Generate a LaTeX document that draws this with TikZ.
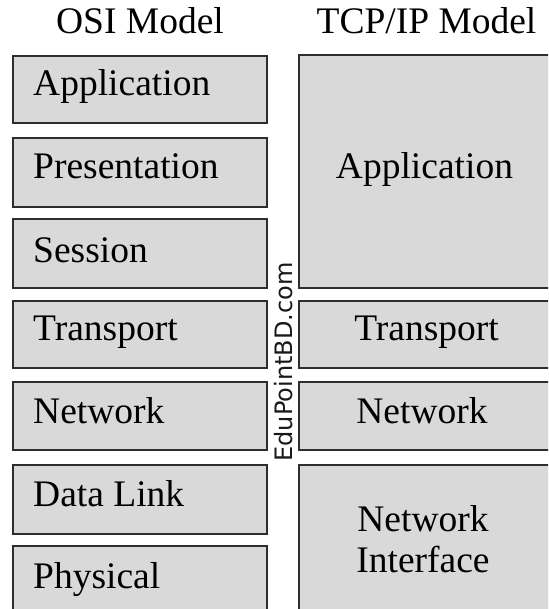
\documentclass[tikz,border=0pt]{standalone}
\usepackage{fontspec}
\setmainfont{Liberation Serif}
\newfontfamily\wmfont{DejaVu Sans}
\definecolor{boxfill}{HTML}{D9D9D9}
\definecolor{boxline}{HTML}{2E2E2E}
\tikzset{
  layer/.style={draw=boxline, fill=boxfill, line width=1.6pt, anchor=north west, inner sep=0pt, outer sep=0pt},
  lbl/.style={font=\fontsize{37.5}{41}\selectfont, inner sep=0pt, text=black},
  osilbl/.style={lbl, anchor=base west},
  tcplbl/.style={lbl, anchor=base},
}
\begin{document}
\begin{tikzpicture}[x=1pt,y=-1pt]
\useasboundingbox (0,0) rectangle (548,609);
\clip (0,0) rectangle (548,609);
\fill[white] (0,0) rectangle (548,609);
% titles
\node[tcplbl] (osititle) at (140,34) {OSI Model};
\node[tcplbl] (tcptitle) at (426.5,34) {TCP/IP Model};
% OSI boxes
\node[layer, minimum width=254pt, minimum height=67pt] (oapp) at (13,56) {};
\node[layer, minimum width=254pt, minimum height=69pt] (opre) at (13,138) {};
\node[layer, minimum width=254pt, minimum height=69pt] (oses) at (13,219) {};
\node[layer, minimum width=254pt, minimum height=67pt] (otra) at (13,301) {};
\node[layer, minimum width=254pt, minimum height=68pt] (onet) at (13,382) {};
\node[layer, minimum width=254pt, minimum height=69pt] (odl) at (13,465) {};
\node[layer, minimum width=254pt, minimum height=90pt] (ophy) at (13,546) {};
\node[osilbl] (oappt) at (33,96) {Application};
\node[osilbl] (opret) at (33,179) {Presentation};
\node[osilbl] (osest) at (33,262) {Session};
\node[osilbl] (otrat) at (33,340) {Transport};
\node[osilbl] (onett) at (33,423) {Network};
\node[osilbl] (odlt) at (33,506) {Data Link};
\node[osilbl] (ophyt) at (33,588) {Physical};
% TCP/IP boxes
\node[layer, minimum width=253pt, minimum height=233pt] (tapp) at (299,55) {};
\node[layer, minimum width=253pt, minimum height=67pt] (ttra) at (299,301) {};
\node[layer, minimum width=253pt, minimum height=68pt] (tnet) at (299,382) {};
\node[layer, minimum width=253pt, minimum height=170pt] (tni) at (299,465) {};
\node[tcplbl] (tappt) at (424.5,179) {Application};
\node[tcplbl] (ttrat) at (426.5,340) {Transport};
\node[tcplbl] (tnett) at (422,423) {Network};
\node[tcplbl] (tnit1) at (423,531) {Network};
\node[tcplbl] (tnit2) at (423,572) {Interface};
% watermark
\node[rotate=90, inner sep=0pt, font=\wmfont\fontsize{24}{24}\selectfont, text=black!90] (wm) at (284,362) {EduPointBD.com};
\end{tikzpicture}
\end{document}
